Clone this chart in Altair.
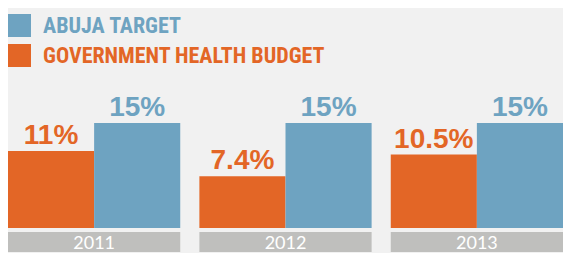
import altair as alt
import pandas as pd

years = ["2011", "2012", "2013"]
budget = [11, 7.4, 10.5]
abuja = [15, 15, 15]
series = ["GOVERNMENT HEALTH BUDGET", "ABUJA TARGET"]
legend_order = ["ABUJA TARGET", "GOVERNMENT HEALTH BUDGET"]
colors = ["#6EA3C1", "#E36626"]

rows = []
for yr, b, a in zip(years, budget, abuja):
    rows.append({"year": yr, "series": series[0], "value": b, "label": f"{b:g}%"})
    rows.append({"year": yr, "series": series[1], "value": a, "label": f"{a:g}%"})
df = pd.DataFrame(rows)
years_df = pd.DataFrame({"year": years})

W, H = 555, 220

x = alt.X("year:N", axis=None, sort=years,
          scale=alt.Scale(paddingInner=0.1, paddingOuter=0))
xo = alt.XOffset("series:N", sort=series,
                 scale=alt.Scale(paddingInner=0, paddingOuter=0))
y = alt.Y("value:Q", axis=None, scale=alt.Scale(domain=[0, H / 7]))
color = alt.Color(
    "series:N",
    scale=alt.Scale(domain=legend_order, range=colors),
    legend=alt.Legend(
        title=None, orient="none", legendX=0, legendY=6,
        symbolType="square", symbolSize=529, symbolStrokeWidth=0,
        symbolOpacity=1,
        labelFont="Roboto Condensed, Liberation Sans Narrow, Arial Narrow, sans-serif",
        labelFontWeight="bold", labelFontSize=22, labelOffset=12,
        labelLimit=0, rowPadding=7, padding=0,
        labelColor={"expr": "datum.label == 'ABUJA TARGET' ? '#6EA3C1' : '#E36626'"},
    ),
)

band = alt.Chart(years_df).mark_rect(color="#BFBFBD").encode(
    x=x, y=alt.value(224), y2=alt.value(244)
)
year_text = alt.Chart(years_df).mark_text(
    color="white", font="Lato", fontSize=18, baseline="alphabetic"
).encode(x=x, y=alt.value(241), text="year:N")

bars = alt.Chart(df).mark_bar().encode(x=x, xOffset=xo, y=y, color=color)
labels = alt.Chart(df).mark_text(
    font="Liberation Sans", fontWeight="bold", fontSize=28,
    baseline="alphabetic", dy=-7
).encode(x=x, xOffset=xo, y=y, text="label:N", color=color)

chart = alt.layer(band, year_text, bars, labels).properties(
    width=W, height=H, background="#F1F1F1", padding=0
).configure_view(stroke=None)

chart.save("out.html", embed_options={"renderer": "svg", "actions": False})
